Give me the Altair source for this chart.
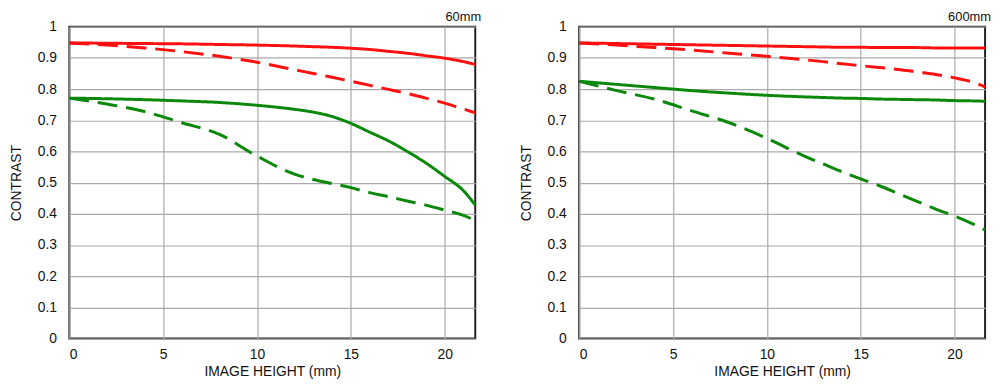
import altair as alt
import pandas as pd

# image height sample positions (mm)
x_mm = [0, 2, 4, 6, 8, 10, 12, 13, 14, 15, 16, 17, 18, 19, 20, 21, 21.63]

# 60mm panel
w60_red_solid = [0.948, 0.947, 0.946, 0.945, 0.943, 0.941, 0.938, 0.936, 0.934, 0.931, 0.927, 0.921, 0.915, 0.907, 0.899, 0.888, 0.879]
w60_red_dash = [0.948, 0.941, 0.932, 0.920, 0.905, 0.886, 0.862, 0.850, 0.838, 0.825, 0.812, 0.799, 0.786, 0.771, 0.755, 0.736, 0.724]
w60_green_solid = [0.771, 0.769, 0.766, 0.762, 0.757, 0.748, 0.735, 0.726, 0.712, 0.690, 0.662, 0.634, 0.600, 0.563, 0.520, 0.474, 0.428]
w60_green_dash = [0.771, 0.752, 0.728, 0.692, 0.655, 0.585, 0.527, 0.510, 0.497, 0.484, 0.468, 0.455, 0.441, 0.428, 0.412, 0.395, 0.378]

# 600mm panel
t600_red_solid = [0.948, 0.946, 0.944, 0.942, 0.940, 0.938, 0.936, 0.935, 0.934, 0.934, 0.933, 0.933, 0.933, 0.932, 0.932, 0.932, 0.932]
t600_red_dash = [0.948, 0.941, 0.933, 0.925, 0.915, 0.905, 0.894, 0.888, 0.881, 0.875, 0.869, 0.863, 0.855, 0.847, 0.836, 0.822, 0.807]
t600_green_solid = [0.825, 0.815, 0.805, 0.795, 0.787, 0.780, 0.775, 0.773, 0.771, 0.770, 0.768, 0.767, 0.766, 0.765, 0.763, 0.762, 0.761]
t600_green_dash = [0.825, 0.795, 0.768, 0.730, 0.692, 0.642, 0.585, 0.560, 0.535, 0.512, 0.490, 0.465, 0.440, 0.415, 0.393, 0.367, 0.348]

x_ticks = [0, 5, 10, 15, 20]
y_ticks = [0, 0.1, 0.2, 0.3, 0.4, 0.5, 0.6, 0.7, 0.8, 0.9, 1]

FONT = "Liberation Sans"


def build(title, series):
    rows = []
    for name, color, dash, vals in series:
        for x, v in zip(x_mm, vals):
            rows.append({"x": x, "y": v, "s": name, "c": color, "d": dash})
    df = pd.DataFrame(rows)
    return (
        alt.Chart(df)
        .mark_line(strokeWidth=3, interpolate="monotone")
        .encode(
            x=alt.X(
                "x:Q",
                scale=alt.Scale(domain=[0, 21.63], nice=False, zero=False),
                axis=alt.Axis(values=x_ticks, title="IMAGE HEIGHT (mm)"),
            ),
            y=alt.Y(
                "y:Q",
                scale=alt.Scale(domain=[0, 1], nice=False),
                axis=alt.Axis(
                    values=y_ticks,
                    title="CONTRAST",
                    labelExpr="datum.value == 0 ? '0' : (datum.value == 1 ? '1' : format(datum.value, '.1f'))",
                ),
            ),
            color=alt.Color(
                "c:N",
                scale=alt.Scale(domain=["red", "green"], range=["#ff1010", "#0a880a"]),
                legend=None,
            ),
            strokeDash=alt.StrokeDash(
                "d:N",
                scale=alt.Scale(domain=["solid", "dash"], range=[[1, 0], [20, 9]]),
                legend=None,
            ),
            detail="s:N",
        )
        .properties(
            width=410,
            height=315,
            title=alt.TitleParams(
                title, anchor="end", fontSize=13, fontWeight="normal", font=FONT, offset=-4, color="#111"
            ),
        )
    )


left = build(
    "60mm",
    [
        ("rs", "red", "solid", w60_red_solid),
        ("rd", "red", "dash", w60_red_dash),
        ("gs", "green", "solid", w60_green_solid),
        ("gd", "green", "dash", w60_green_dash),
    ],
)
right = build(
    "600mm",
    [
        ("rs", "red", "solid", t600_red_solid),
        ("rd", "red", "dash", t600_red_dash),
        ("gs", "green", "solid", t600_green_solid),
        ("gd", "green", "dash", t600_green_dash),
    ],
)

chart = (
    alt.hconcat(left, right, spacing=36)
    .properties(padding={"left": 0, "top": 0, "right": 0, "bottom": 0})
    .configure_view(stroke="#222222", strokeWidth=2)
    .configure_axis(
        grid=True,
        gridColor="#aaaaaa",
        gridWidth=1.2,
        domain=False,
        ticks=False,
        labelFont=FONT,
        labelFontSize=14,
        labelColor="#111",
        titleFont=FONT,
        titleFontSize=14,
        titleFontWeight="normal",
        titleColor="#111",
    )
    .configure_axisY(labelPadding=13, titlePadding=14)
    .configure_axisX(labelPadding=9, titlePadding=3)
)

chart.save("out.html", embed_options={"renderer": "svg", "actions": False})
